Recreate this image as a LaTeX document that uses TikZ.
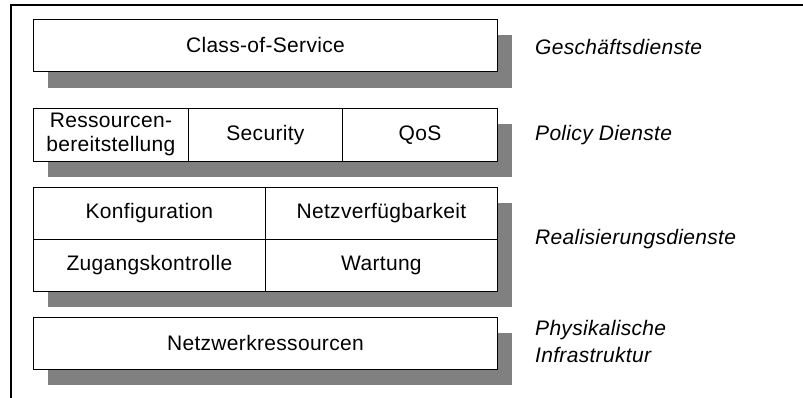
\documentclass[tikz,border=0pt]{standalone}
\usepackage{fontspec}
\setmainfont[LetterSpace=1.5]{Liberation Sans}
\begin{document}
\begin{tikzpicture}[x=1pt,y=-1pt,
  cell/.style={draw=black,line width=0.9pt,fill=white,inner sep=0pt,anchor=north west,align=center,font=\fontsize{21}{24}\selectfont},
  shadowbox/.style={fill=black!50,draw=none},
  layerlabel/.style={anchor=west,inner sep=0pt,align=left,font=\fontsize{21}{27}\selectfont\itshape}]
\useasboundingbox (0,0) rectangle (803,398);
\draw[line width=2pt] (11,398) -- (11,5) -- (803,5);
% shadows
\fill[shadowbox] (48,35) rectangle (512,88);
\fill[shadowbox] (48,124) rectangle (512,177);
\fill[shadowbox] (48,203) rectangle (512,307);
\fill[shadowbox] (48,333) rectangle (512,385);
% layer 1
\node[cell,minimum width=464pt,minimum height=52pt] (cos) at (33,19) {Class-of-Service};
% layer 2
\node[cell,minimum width=155pt,minimum height=53pt] (res) at (33,108) {Ressourcen-\\bereitstellung};
\node[cell,minimum width=154pt,minimum height=53pt] (sec) at (188,108) {Security};
\node[cell,minimum width=155pt,minimum height=53pt] (qos) at (342,108) {QoS};
% layer 3
\node[cell,minimum width=232pt,minimum height=52pt] (konf) at (33,187) {Konfiguration};
\node[cell,minimum width=232pt,minimum height=52pt] (netz) at (265,187) {Netzverfügbarkeit};
\node[cell,minimum width=232pt,minimum height=52pt] (zug) at (33,239) {Zugangskontrolle};
\node[cell,minimum width=232pt,minimum height=52pt] (wart) at (265,239) {Wartung};
% layer 4
\node[cell,minimum width=464pt,minimum height=52pt] (nwr) at (33,317) {Netzwerkressourcen};
% labels
\node[layerlabel] (l1) at (535,47) {Geschäftsdienste};
\node[layerlabel] (l2) at (535,135) {Policy Dienste};
\node[layerlabel] (l3) at (535,239) {Realisierungsdienste};
\node[layerlabel] (l4) at (535,341) {Physikalische\\Infrastruktur};
\end{tikzpicture}
\end{document}
